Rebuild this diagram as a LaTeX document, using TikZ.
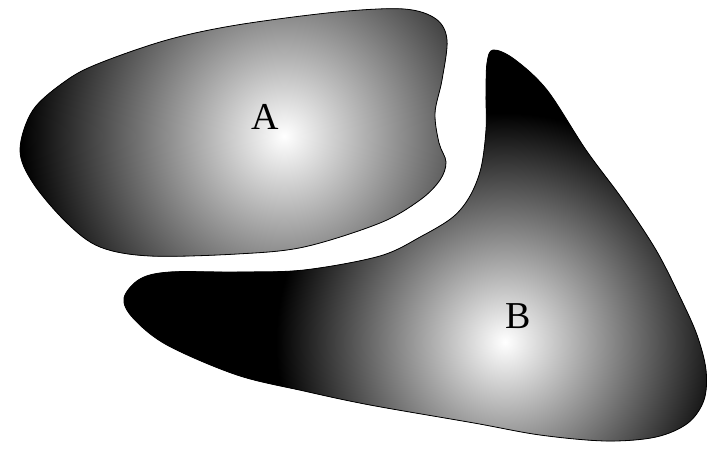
\documentclass[tikz,border=0pt]{standalone}
\usepackage{fontspec}
\setmainfont{Liberation Serif}
\pgfdeclareradialshading{glowA}{\pgfpointorigin}{color(0bp)=(white);color(262bp)=(black);color(300bp)=(black)}
\pgfdeclareradialshading{glowB}{\pgfpointorigin}{color(0bp)=(white);color(228bp)=(black);color(400bp)=(black)}
\begin{document}
\begin{tikzpicture}[x=1pt,y=1pt]
\tikzstyle{blob}=[draw,line width=.8pt,fill=black]
\tikzstyle{glow}=[inner sep=0pt,outer sep=0pt]
\tikzstyle{letter}=[font=\fontsize{38}{40}\selectfont]
\useasboundingbox(0,0)rectangle(710,448);
\coordinate(cA)at(284,312);
\coordinate(cB)at(505,106);
% upper region
\path[blob,path picture={\node[glow](gA)at(cA){\pgfuseshading{glowA}};}]
 plot[smooth cycle,tension=0.55]coordinates{(20,298)(33,338)(67,368)(100,385)(167,408)(237,423)(337,436)(404,439)(436,429)(447,408)(442,368)(435,335)(439,305)(446,286)(440,268)(420,248)(380,225)(304,201)(237,194)(150,192)(100,201)(67,225)(33,265)};
% lower region
\path[blob,path picture={\node[glow](gB)at(cB){\pgfuseshading{glowB}};}]
 plot[smooth cycle,tension=0.55]coordinates{(493,398)(514,389)(547,358)(586,298)(623,248)(656,198)(680,151)(697,113)(706,78)(704,48)(688,25)(656,11)(606,7)(540,13)(474,25)(370,43)(304,57)(237,73)(167,103)(133,130)(124,150)(140,169)(170,176)(237,176)(304,178)(380,192)(422,212)(453,231)(470,252)(481,280)(486,318)(486,353)(487,385)};
\node[letter](A)at(265,331){A};
\node[letter](B)at(518,132){B};
\end{tikzpicture}
\end{document}
